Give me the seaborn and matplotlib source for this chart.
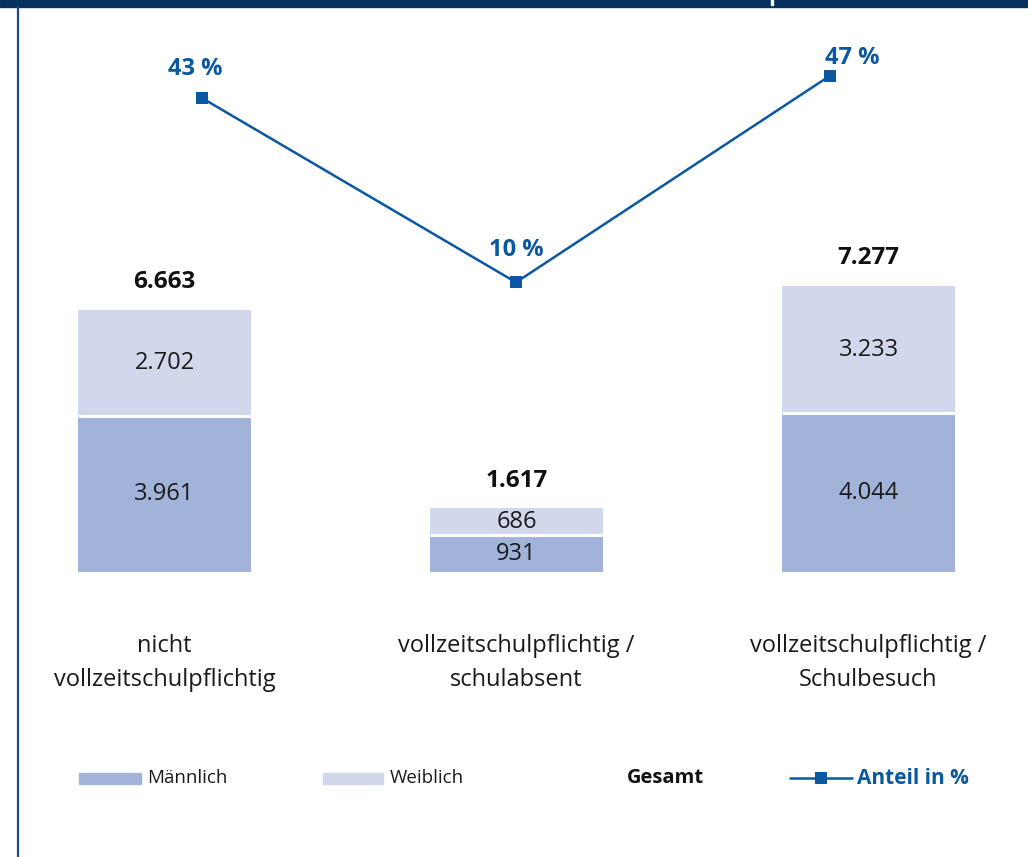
import matplotlib
matplotlib.use("Agg")
import matplotlib.pyplot as plt
from matplotlib.patches import Rectangle
from matplotlib.lines import Line2D
import numpy as np
import pandas as pd
import seaborn as sns

# ---- data -------------------------------------------------------------
categories = ["nicht\nvollzeitschulpflichtig",
              "vollzeitschulpflichtig /\nschulabsent",
              "vollzeitschulpflichtig /\nSchulbesuch"]
maennlich = [3961, 931, 4044]
weiblich = [2702, 686, 3233]
gesamt = [6663, 1617, 7277]
anteil = [43, 10, 47]

legend_labels = ["Männlich", "Weiblich", "Gesamt", "Anteil in %"]

# ---- style ------------------------------------------------------------
sns.set_theme(style="white")
plt.rcParams["font.family"] = ["Open Sans", "DejaVu Sans"]

C_MALE = "#A2B3DA"
C_FEMALE = "#D2D8EC"
C_LINE = "#0B58A2"
C_NAVY = "#08305E"
C_FRAME = "#1F4A82"
C_TEXT = "#1a1a1a"

W, H = 1028, 857
fig = plt.figure(figsize=(W / 100, H / 100), dpi=100)


def fx(px):
    return px / W


def fy(py):
    return 1 - py / H


# plot region in pixel coordinates
ax_left, ax_right, ax_top, ax_bottom = 30, 1000, 20, 572
rect = [fx(ax_left), fy(ax_bottom), fx(ax_right - ax_left),
        (ax_bottom - ax_top) / H]
ax = fig.add_axes(rect)

df = pd.DataFrame({"Kategorie": categories, "Männlich": maennlich,
                   "Weiblich": weiblich, "Gesamt": gesamt})

BAR_W = 0.49
# stacked bars: full total in the light colour, male share on top of it
sns.barplot(data=df, x="Kategorie", y="Gesamt", color=C_FEMALE,
            width=BAR_W, saturation=1, ax=ax, linewidth=0)
sns.barplot(data=df, x="Kategorie", y="Männlich", color=C_MALE,
            width=BAR_W, saturation=1, ax=ax, linewidth=0)
# thin white gap between the two segments
pos = np.arange(len(categories))
ax.hlines(maennlich, pos - BAR_W / 2, pos + BAR_W / 2, color="white",
          linewidth=2.2)

# bar axis scaling: category spacing 352 px, first bar centred at 164.5 px
cat_px = 352.0
x0_px = 164.5
ax.set_xlim((ax_left - x0_px) / cat_px, (ax_right - x0_px) / cat_px)
px_per_unit = 0.0393
ax.set_ylim(0, (ax_bottom - ax_top) / px_per_unit)


def fmt(v):
    return f"{v:,}".replace(",", ".")


for i, (m, w, g) in enumerate(zip(maennlich, weiblich, gesamt)):
    ax.text(i, m / 2, fmt(m), ha="center", va="center", fontsize=17,
            color=C_TEXT)
    ax.text(i, m + w / 2, fmt(w), ha="center", va="center", fontsize=17,
            color=C_TEXT)
    ax.annotate(fmt(g), (i, g), xytext=(0, 20), textcoords="offset points",
                ha="center", va="center", fontsize=17.5, fontweight="bold",
                color="#111111")

ax.set_xlabel("")
ax.set_ylabel("")
ax.set_yticks([])
ax.tick_params(axis="x", length=0, pad=45, labelsize=17,
               labelcolor=C_TEXT)
for lab in ax.get_xticklabels():
    lab.set_linespacing(1.5)
for s in ax.spines.values():
    s.set_visible(False)
ax.patch.set_alpha(0)

# share line on an overlaid axis with its own spacing
ax2 = fig.add_axes(rect)
line_px = 314.0
lx0_px = 202.0
ax2.set_xlim((ax_left - lx0_px) / line_px, (ax_right - lx0_px) / line_px)
pct_px = 5.585
pct0_py = 338.2
ax2.set_ylim((pct0_py - ax_bottom) / pct_px, (pct0_py - ax_top) / pct_px)
sns.lineplot(x=np.arange(len(anteil)), y=anteil, ax=ax2, color=C_LINE,
             linewidth=1.8, marker="s", markersize=9, markeredgewidth=0)
pct_label_offsets = [(-5, 21), (0, 23), (16, 13)]
for i, p in enumerate(anteil):
    ax2.annotate(f"{p} %", (i, p), xytext=pct_label_offsets[i],
                 textcoords="offset points", ha="center", va="center",
                 fontsize=17, fontweight="bold", color=C_LINE)
ax2.axis("off")

# ---- legend -----------------------------------------------------------
leg_y = 778
fig.add_artist(Rectangle((fx(79), fy(784)), fx(62), 11 / H,
                         color=C_MALE, transform=fig.transFigure))
fig.text(fx(147), fy(leg_y), legend_labels[0], fontsize=13.5, va="center",
         color=C_TEXT)
fig.add_artist(Rectangle((fx(323), fy(784)), fx(60), 11 / H,
                         color=C_FEMALE, transform=fig.transFigure))
fig.text(fx(390), fy(leg_y), legend_labels[1], fontsize=13.5, va="center",
         color=C_TEXT)
fig.text(fx(627), fy(leg_y), legend_labels[2], fontsize=14.5, va="center",
         fontweight="bold", color="#111111")
fig.add_artist(Line2D([fx(790), fx(852)], [fy(leg_y), fy(leg_y)],
                      color=C_LINE, linewidth=1.8, transform=fig.transFigure))
fig.add_artist(Line2D([fx(821)], [fy(leg_y)], color=C_LINE, marker="s",
                      markersize=9, markeredgewidth=0,
                      transform=fig.transFigure))
fig.text(fx(857), fy(leg_y), legend_labels[3], fontsize=15, va="center",
         fontweight="bold", color=C_LINE)

# ---- frame ------------------------------------------------------------
fig.add_artist(Rectangle((0, fy(7)), 1, 7 / H, color=C_NAVY,
                         transform=fig.transFigure))
fig.add_artist(Rectangle((fx(771), fy(5)), fx(2), 5 / H, color="white",
                         transform=fig.transFigure))
fig.add_artist(Line2D([fx(18), fx(18)], [0, fy(7)], color=C_FRAME,
                      linewidth=1.6, transform=fig.transFigure))

fig.savefig("out.png", dpi=100, facecolor="white")
